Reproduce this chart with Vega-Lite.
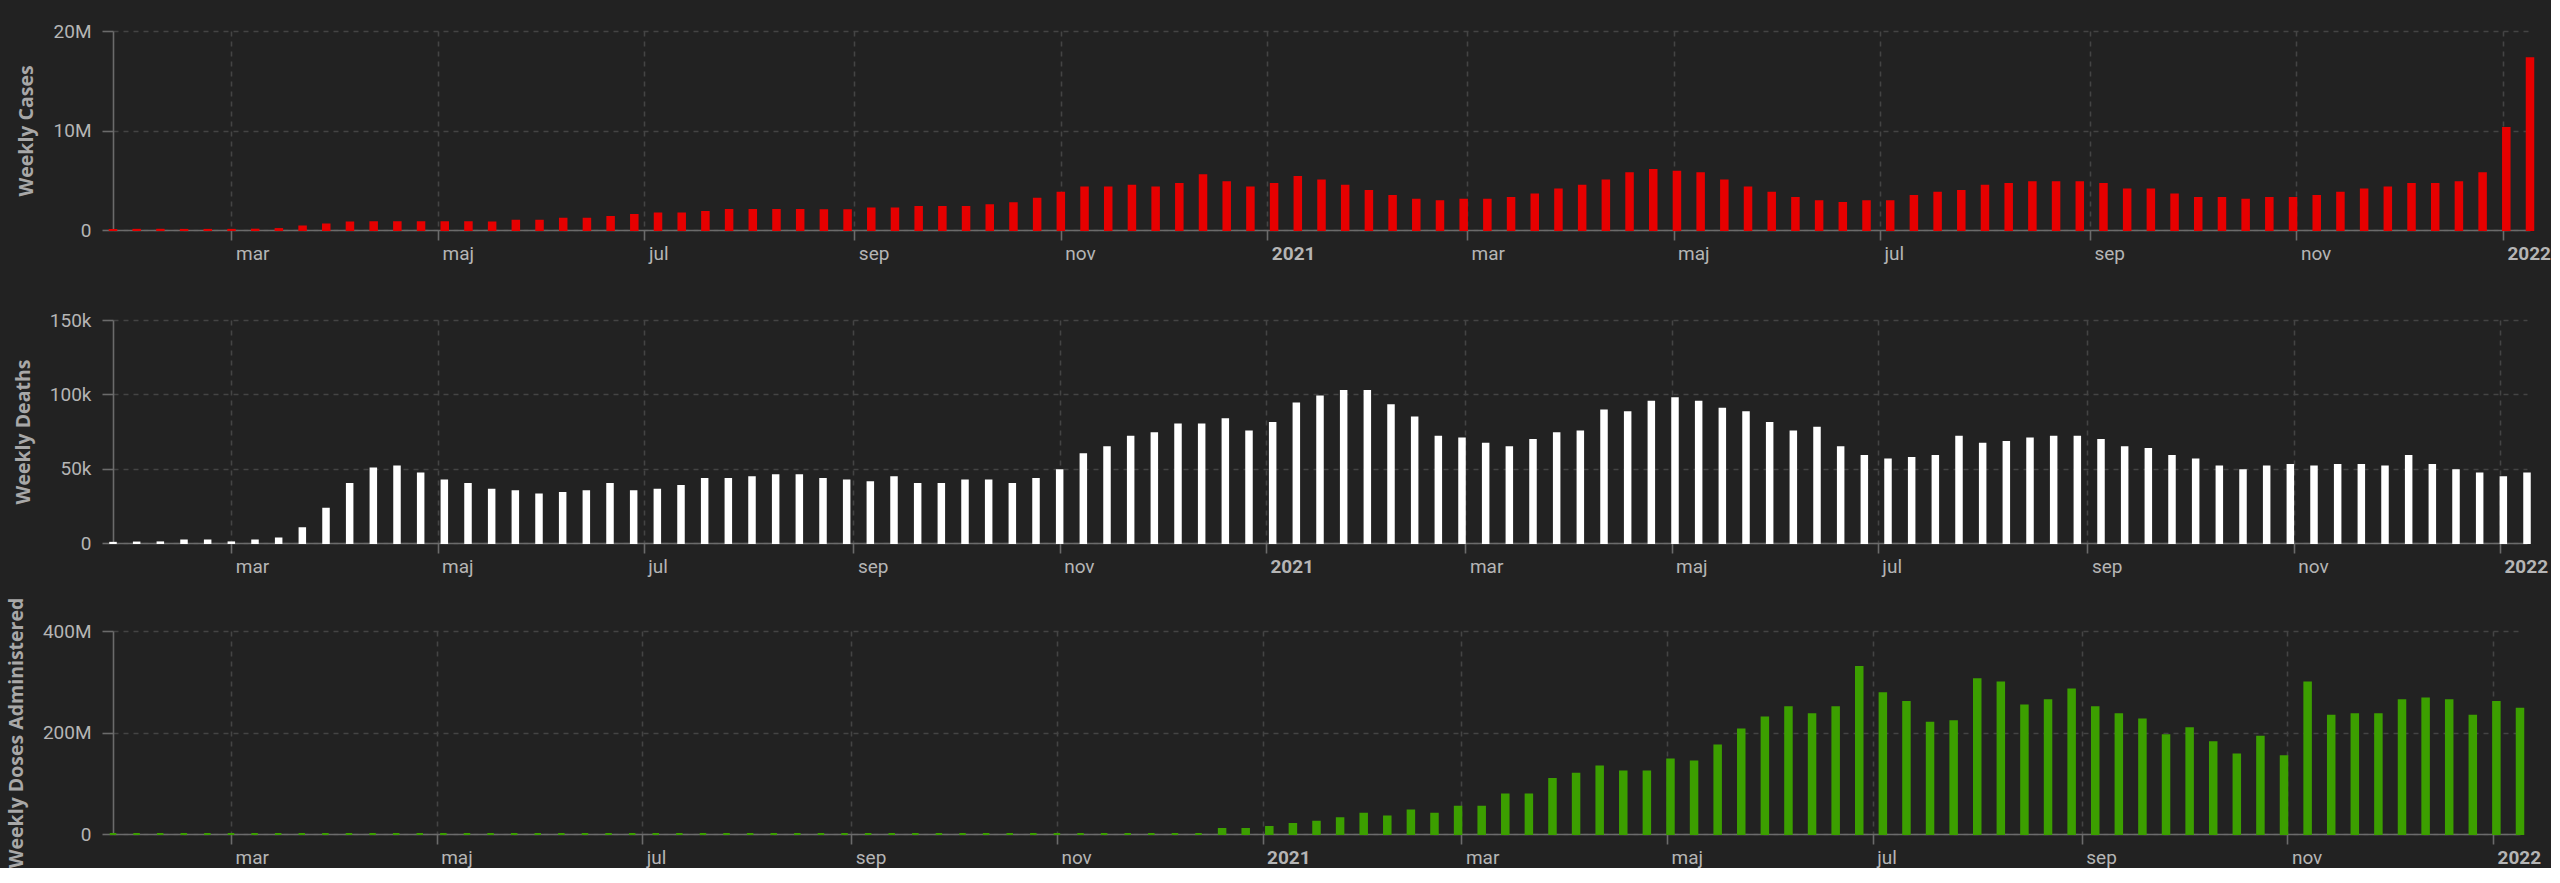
{
  "$schema": "https://vega.github.io/schema/vega-lite/v6.json",
  "background": "#222222",
  "padding": {"left": 5, "top": 22, "right": 0, "bottom": 0},
  "spacing": 48,
  "datasets": {
    "weekly": [
      {"date": "2020-01-26T00:00:00", "cases": 3000, "deaths": 100, "doses": 0},
      {"date": "2020-02-02T00:00:00", "cases": 15000, "deaths": 300, "doses": 0},
      {"date": "2020-02-09T00:00:00", "cases": 20000, "deaths": 400, "doses": 0},
      {"date": "2020-02-16T00:00:00", "cases": 10000, "deaths": 1700, "doses": 0},
      {"date": "2020-02-23T00:00:00", "cases": 10000, "deaths": 1700, "doses": 0},
      {"date": "2020-03-01T00:00:00", "cases": 12000, "deaths": 400, "doses": 0},
      {"date": "2020-03-08T00:00:00", "cases": 30000, "deaths": 1700, "doses": 0},
      {"date": "2020-03-15T00:00:00", "cases": 90000, "deaths": 3100, "doses": 0},
      {"date": "2020-03-22T00:00:00", "cases": 350000, "deaths": 9900, "doses": 0},
      {"date": "2020-03-29T00:00:00", "cases": 550000, "deaths": 23100, "doses": 0},
      {"date": "2020-04-05T00:00:00", "cases": 750000, "deaths": 39700, "doses": 0},
      {"date": "2020-04-12T00:00:00", "cases": 780000, "deaths": 50100, "doses": 0},
      {"date": "2020-04-19T00:00:00", "cases": 780000, "deaths": 51400, "doses": 0},
      {"date": "2020-04-26T00:00:00", "cases": 780000, "deaths": 46700, "doses": 0},
      {"date": "2020-05-03T00:00:00", "cases": 780000, "deaths": 42000, "doses": 0},
      {"date": "2020-05-10T00:00:00", "cases": 780000, "deaths": 39700, "doses": 0},
      {"date": "2020-05-17T00:00:00", "cases": 750000, "deaths": 35900, "doses": 0},
      {"date": "2020-05-24T00:00:00", "cases": 920000, "deaths": 34800, "doses": 0},
      {"date": "2020-05-31T00:00:00", "cases": 920000, "deaths": 32600, "doses": 0},
      {"date": "2020-06-07T00:00:00", "cases": 1120000, "deaths": 33700, "doses": 0},
      {"date": "2020-06-14T00:00:00", "cases": 1120000, "deaths": 34800, "doses": 0},
      {"date": "2020-06-21T00:00:00", "cases": 1300000, "deaths": 39700, "doses": 0},
      {"date": "2020-06-28T00:00:00", "cases": 1500000, "deaths": 34800, "doses": 0},
      {"date": "2020-07-05T00:00:00", "cases": 1660000, "deaths": 35900, "doses": 0},
      {"date": "2020-07-12T00:00:00", "cases": 1660000, "deaths": 38400, "doses": 0},
      {"date": "2020-07-19T00:00:00", "cases": 1800000, "deaths": 43100, "doses": 0},
      {"date": "2020-07-26T00:00:00", "cases": 2000000, "deaths": 43100, "doses": 0},
      {"date": "2020-08-02T00:00:00", "cases": 2000000, "deaths": 44200, "doses": 0},
      {"date": "2020-08-09T00:00:00", "cases": 2000000, "deaths": 45600, "doses": 0},
      {"date": "2020-08-16T00:00:00", "cases": 2000000, "deaths": 45600, "doses": 0},
      {"date": "2020-08-23T00:00:00", "cases": 1980000, "deaths": 43100, "doses": 0},
      {"date": "2020-08-30T00:00:00", "cases": 1980000, "deaths": 42000, "doses": 0},
      {"date": "2020-09-06T00:00:00", "cases": 2150000, "deaths": 40900, "doses": 0},
      {"date": "2020-09-13T00:00:00", "cases": 2150000, "deaths": 44200, "doses": 0},
      {"date": "2020-09-20T00:00:00", "cases": 2320000, "deaths": 39700, "doses": 0},
      {"date": "2020-09-27T00:00:00", "cases": 2320000, "deaths": 39700, "doses": 0},
      {"date": "2020-10-04T00:00:00", "cases": 2320000, "deaths": 42000, "doses": 0},
      {"date": "2020-10-11T00:00:00", "cases": 2500000, "deaths": 42000, "doses": 0},
      {"date": "2020-10-18T00:00:00", "cases": 2700000, "deaths": 39700, "doses": 0},
      {"date": "2020-10-25T00:00:00", "cases": 3150000, "deaths": 43100, "doses": 0},
      {"date": "2020-11-01T00:00:00", "cases": 3750000, "deaths": 48900, "doses": 0},
      {"date": "2020-11-08T00:00:00", "cases": 4280000, "deaths": 59700, "doses": 0},
      {"date": "2020-11-15T00:00:00", "cases": 4280000, "deaths": 64400, "doses": 0},
      {"date": "2020-11-22T00:00:00", "cases": 4450000, "deaths": 71400, "doses": 0},
      {"date": "2020-11-29T00:00:00", "cases": 4280000, "deaths": 73900, "doses": 0},
      {"date": "2020-12-06T00:00:00", "cases": 4620000, "deaths": 79700, "doses": 0},
      {"date": "2020-12-13T00:00:00", "cases": 5500000, "deaths": 79700, "doses": 0},
      {"date": "2020-12-20T00:00:00", "cases": 4800000, "deaths": 83300, "doses": 9800000},
      {"date": "2020-12-27T00:00:00", "cases": 4280000, "deaths": 75000, "doses": 9800000},
      {"date": "2021-01-03T00:00:00", "cases": 4620000, "deaths": 80800, "doses": 13800000},
      {"date": "2021-01-10T00:00:00", "cases": 5320000, "deaths": 93800, "doses": 19700000},
      {"date": "2021-01-17T00:00:00", "cases": 4970000, "deaths": 98600, "doses": 24300000},
      {"date": "2021-01-24T00:00:00", "cases": 4450000, "deaths": 102200, "doses": 30800000},
      {"date": "2021-01-31T00:00:00", "cases": 3920000, "deaths": 102200, "doses": 40000000},
      {"date": "2021-02-07T00:00:00", "cases": 3420000, "deaths": 92700, "doses": 34500000},
      {"date": "2021-02-14T00:00:00", "cases": 3050000, "deaths": 84400, "doses": 46300000},
      {"date": "2021-02-21T00:00:00", "cases": 2880000, "deaths": 71400, "doses": 40000000},
      {"date": "2021-02-28T00:00:00", "cases": 3050000, "deaths": 70300, "doses": 53800000},
      {"date": "2021-03-07T00:00:00", "cases": 3050000, "deaths": 66700, "doses": 53800000},
      {"date": "2021-03-14T00:00:00", "cases": 3220000, "deaths": 64400, "doses": 77700000},
      {"date": "2021-03-21T00:00:00", "cases": 3580000, "deaths": 69200, "doses": 77700000},
      {"date": "2021-03-28T00:00:00", "cases": 4080000, "deaths": 73900, "doses": 108500000},
      {"date": "2021-04-04T00:00:00", "cases": 4450000, "deaths": 75000, "doses": 118700000},
      {"date": "2021-04-11T00:00:00", "cases": 4970000, "deaths": 89100, "doses": 133000000},
      {"date": "2021-04-18T00:00:00", "cases": 5700000, "deaths": 88000, "doses": 123300000},
      {"date": "2021-04-25T00:00:00", "cases": 6020000, "deaths": 95000, "doses": 123300000},
      {"date": "2021-05-02T00:00:00", "cases": 5860000, "deaths": 97400, "doses": 146900000},
      {"date": "2021-05-09T00:00:00", "cases": 5700000, "deaths": 95000, "doses": 143000000},
      {"date": "2021-05-16T00:00:00", "cases": 4970000, "deaths": 90300, "doses": 174400000},
      {"date": "2021-05-23T00:00:00", "cases": 4280000, "deaths": 88000, "doses": 205900000},
      {"date": "2021-05-30T00:00:00", "cases": 3750000, "deaths": 80800, "doses": 229500000},
      {"date": "2021-06-06T00:00:00", "cases": 3220000, "deaths": 75000, "doses": 249800000},
      {"date": "2021-06-13T00:00:00", "cases": 2880000, "deaths": 77500, "doses": 236100000},
      {"date": "2021-06-20T00:00:00", "cases": 2720000, "deaths": 64400, "doses": 249800000},
      {"date": "2021-06-27T00:00:00", "cases": 2880000, "deaths": 58600, "doses": 329200000},
      {"date": "2021-07-04T00:00:00", "cases": 2880000, "deaths": 56100, "doses": 277400000},
      {"date": "2021-07-11T00:00:00", "cases": 3420000, "deaths": 57200, "doses": 260300000},
      {"date": "2021-07-18T00:00:00", "cases": 3750000, "deaths": 58600, "doses": 219000000},
      {"date": "2021-07-25T00:00:00", "cases": 3920000, "deaths": 71400, "doses": 222300000},
      {"date": "2021-08-01T00:00:00", "cases": 4450000, "deaths": 66700, "doses": 304900000},
      {"date": "2021-08-08T00:00:00", "cases": 4620000, "deaths": 68000, "doses": 298400000},
      {"date": "2021-08-15T00:00:00", "cases": 4800000, "deaths": 70300, "doses": 253100000},
      {"date": "2021-08-22T00:00:00", "cases": 4800000, "deaths": 71400, "doses": 263600000},
      {"date": "2021-08-29T00:00:00", "cases": 4800000, "deaths": 71400, "doses": 284600000},
      {"date": "2021-09-05T00:00:00", "cases": 4620000, "deaths": 69200, "doses": 249800000},
      {"date": "2021-09-12T00:00:00", "cases": 4080000, "deaths": 64400, "doses": 236100000},
      {"date": "2021-09-19T00:00:00", "cases": 4080000, "deaths": 63300, "doses": 225600000},
      {"date": "2021-09-26T00:00:00", "cases": 3580000, "deaths": 58600, "doses": 194800000},
      {"date": "2021-10-03T00:00:00", "cases": 3220000, "deaths": 56100, "doses": 208500000},
      {"date": "2021-10-10T00:00:00", "cases": 3220000, "deaths": 51400, "doses": 181000000},
      {"date": "2021-10-17T00:00:00", "cases": 3050000, "deaths": 48900, "doses": 156700000},
      {"date": "2021-10-24T00:00:00", "cases": 3220000, "deaths": 51400, "doses": 191500000},
      {"date": "2021-10-31T00:00:00", "cases": 3220000, "deaths": 52500, "doses": 153400000},
      {"date": "2021-11-07T00:00:00", "cases": 3420000, "deaths": 51400, "doses": 298400000},
      {"date": "2021-11-14T00:00:00", "cases": 3750000, "deaths": 52500, "doses": 232800000},
      {"date": "2021-11-21T00:00:00", "cases": 4080000, "deaths": 52500, "doses": 236100000},
      {"date": "2021-11-28T00:00:00", "cases": 4280000, "deaths": 51400, "doses": 236100000},
      {"date": "2021-12-05T00:00:00", "cases": 4620000, "deaths": 58600, "doses": 263600000},
      {"date": "2021-12-12T00:00:00", "cases": 4620000, "deaths": 52500, "doses": 266900000},
      {"date": "2021-12-19T00:00:00", "cases": 4800000, "deaths": 48900, "doses": 263600000},
      {"date": "2021-12-26T00:00:00", "cases": 5700000, "deaths": 46700, "doses": 232800000},
      {"date": "2022-01-02T00:00:00", "cases": 10250000, "deaths": 44200, "doses": 260300000},
      {"date": "2022-01-09T00:00:00", "cases": 17250000, "deaths": 46700, "doses": 246600000}
    ]
  },
  "vconcat": [
    {
      "width": 2417,
      "height": 199,
      "data": {"name": "weekly"},
      "mark": {"type": "bar", "width": 6.5, "color": "#e60000", "stroke": "#e60000", "strokeWidth": 2},
      "encoding": {
        "x": {
          "field": "date", "type": "temporal",
          "scale": {"padding": 0},
          "axis": {
            "title": null,
            "tickCount": {"interval": "month", "step": 2},
            "labelExpr": "month(datum.value) == 0 ? timeFormat(datum.value, '%Y') : ['jan','feb','mar','apr','maj','jun','jul','aug','sep','okt','nov','dec'][month(datum.value)]",
            "labelFontWeight": {"condition": {"test": "month(datum.value) == 0", "value": "bold"}, "value": "normal"},
            "labelAlign": "left", "labelOffset": 4, "labelFlush": false, "labelPadding": 4, "tickSize": 10
          }
        },
        "y": {
          "field": "cases", "type": "quantitative",
          "scale": {"domain": [0, 20000000], "nice": false},
          "axis": {"title": "Weekly Cases", "values": [0, 10000000, 20000000], "labelExpr": "datum.value == 0 ? '0' : format(datum.value, '~s')", "minExtent": 72, "maxExtent": 72}
        }
      }
    },
    {
      "spacing": 21,
      "vconcat": [
        {
          "width": 2414,
          "height": 223,
          "data": {"name": "weekly"},
          "mark": {"type": "bar", "width": 5.5, "color": "#ffffff", "stroke": "#ffffff", "strokeWidth": 2},
          "encoding": {
            "x": {
              "field": "date", "type": "temporal",
              "scale": {"padding": 0},
              "axis": {
                "title": null,
                "tickCount": {"interval": "month", "step": 2},
                "labelExpr": "month(datum.value) == 0 ? timeFormat(datum.value, '%Y') : ['jan','feb','mar','apr','maj','jun','jul','aug','sep','okt','nov','dec'][month(datum.value)]",
                "labelFontWeight": {"condition": {"test": "month(datum.value) == 0", "value": "bold"}, "value": "normal"},
                "labelAlign": "left", "labelOffset": 4, "labelFlush": false, "labelPadding": 4, "tickSize": 10
              }
            },
            "y": {
              "field": "deaths", "type": "quantitative",
              "scale": {"domain": [0, 150000], "nice": false},
              "axis": {"title": "Weekly Deaths", "values": [0, 50000, 100000, 150000], "labelExpr": "datum.value == 0 ? '0' : format(datum.value, '~s')", "minExtent": 75, "maxExtent": 75}
            }
          }
        },
        {
          "width": 2407,
          "height": 203,
          "data": {"name": "weekly"},
          "mark": {"type": "bar", "width": 6.5, "color": "#3c9f00", "stroke": "#3c9f00", "strokeWidth": 2},
          "encoding": {
            "x": {
              "field": "date", "type": "temporal",
              "scale": {"padding": 0},
              "axis": {
                "title": null,
                "tickCount": {"interval": "month", "step": 2},
                "labelExpr": "month(datum.value) == 0 ? timeFormat(datum.value, '%Y') : ['jan','feb','mar','apr','maj','jun','jul','aug','sep','okt','nov','dec'][month(datum.value)]",
                "labelFontWeight": {"condition": {"test": "month(datum.value) == 0", "value": "bold"}, "value": "normal"},
                "labelAlign": "left", "labelOffset": 4, "labelFlush": false, "labelPadding": 4, "tickSize": 10
              }
            },
            "y": {
              "field": "doses", "type": "quantitative",
              "scale": {"domain": [0, 400000000], "nice": false},
              "axis": {"title": "Weekly Doses Administered", "values": [0, 200000000, 400000000], "labelExpr": "datum.value == 0 ? '0' : format(datum.value, '~s')", "minExtent": 82, "maxExtent": 82}
            }
          }
        }
      ]
    }
  ],
  "config": {
    "view": {"stroke": null},
    "axis": {
      "domainColor": "#6b6b6b",
      "domainWidth": 1.6,
      "tickColor": "#6b6b6b",
      "tickWidth": 1.6,
      "gridColor": "#444444",
      "gridDash": [5, 5],
      "gridWidth": 1.6,
      "labelColor": "#b5b5b5",
      "labelFont": "Roboto",
      "labelFontSize": 19,
      "titleColor": "#a8a8a8",
      "titleFont": "Open Sans",
      "titleFontSize": 19.5,
      "titleFontWeight": "bold",
      "titlePadding": 5
    },
    "axisY": {"tickSize": 11, "labelPadding": 11}
  }
}
